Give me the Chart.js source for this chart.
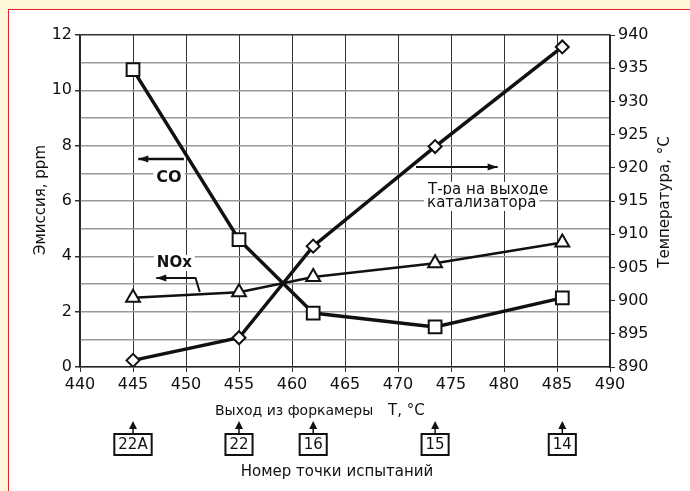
<!DOCTYPE html>
<html><head><meta charset="utf-8">
<script src="https://cdn.jsdelivr.net/npm/chart.js@4"></script>
<style>
html,body{margin:0;padding:0;background:#fdf6d8;width:690px;height:491px;overflow:hidden}
#frame{position:absolute;left:8px;top:9px;width:700px;height:500px;border:1px solid #e8222a;background:#fff;box-sizing:border-box}
#wrap{position:absolute;left:0;top:0;width:690px;height:491px}
</style></head><body>
<div id="frame"></div>
<div id="wrap"><canvas id="c" width="690" height="491"></canvas></div>
<script>
// Data
const chamberT   = [445, 455, 462, 473.5, 485.5];       // x: Выход из форкамеры T, °C
const testPoints = ['22A', '22', '16', '15', '14'];      // Номер точки испытаний
const coPpm      = [10.75, 4.6, 1.95, 1.45, 2.5];        // CO, ppm (left axis)
const noxPpm     = [2.5, 2.7, 3.25, 3.75, 4.5];          // NOx, ppm (left axis)
const catalystT  = [891, 894.4, 908.2, 923.2, 938.2];    // Т-ра на выходе катализатора (right axis)
const xRange = [440, 490];
const leftRange = [0, 12];
const rightRange = [890, 940];

const FONT = 'DejaVu Sans';
const pts = ys => chamberT.map((x, i) => ({x, y: ys[i]}));

const annot = {
  id: 'annot',
  beforeDatasetsDraw(chart) {
    const ctx = chart.ctx, xs = chart.scales.x, yl = chart.scales.y;
    const X = v => xs.getPixelForValue(v), Y = v => yl.getPixelForValue(v);
    ctx.save();
    ctx.fillStyle = '#111'; ctx.strokeStyle = '#111';
    ctx.textBaseline = 'middle'; ctx.textAlign = 'center';
    function label(t, x, y, font) {
      ctx.font = font;
      const w = ctx.measureText(t).width;
      ctx.fillStyle = '#fff';
      ctx.fillRect(x - w/2 - 3, y - 8, w + 6, 16);
      ctx.fillStyle = '#111';
      ctx.fillText(t, x, y);
    }
    function arrowLine(p, lw) {
      ctx.lineWidth = lw;
      ctx.beginPath(); ctx.moveTo(p[0][0], p[0][1]);
      for (let i = 1; i < p.length; i++) ctx.lineTo(p[i][0], p[i][1]);
      ctx.stroke();
      const [ax, ay] = p[p.length-1], [bx, by] = p[p.length-2];
      const ang = Math.atan2(ay - by, ax - bx);
      ctx.beginPath();
      ctx.moveTo(ax, ay);
      ctx.lineTo(ax - 10*Math.cos(ang) + 3.5*Math.sin(ang), ay - 10*Math.sin(ang) - 3.5*Math.cos(ang));
      ctx.lineTo(ax - 10*Math.cos(ang) - 3.5*Math.sin(ang), ay - 10*Math.sin(ang) + 3.5*Math.cos(ang));
      ctx.closePath(); ctx.fill();
    }
    label('CO', X(448.4), Y(6.83), 'bold 16px ' + FONT);
    arrowLine([[X(449.8), Y(7.52)], [X(445.5), Y(7.52)]], 2.5);
    label('NOx', X(448.9), Y(3.76), 'bold 15px ' + FONT);
    arrowLine([[X(451.3), Y(2.71)], [X(450.9), Y(3.22)], [X(447.2), Y(3.22)]], 2);
    label('Т-ра на выходе', X(478.5), Y(6.4), '15px ' + FONT);
    label('катализатора', X(477.9), Y(5.93), '15px ' + FONT);
    arrowLine([[X(471.7), Y(7.23)], [X(479.4), Y(7.23)]], 2);
    ctx.restore();
  },
  afterDraw(chart) {
    const ctx = chart.ctx, xs = chart.scales.x;
    ctx.save();
    ctx.fillStyle = '#111'; ctx.strokeStyle = '#111';
    ctx.textBaseline = 'middle';
    // axis titles
    ctx.font = '15px ' + FONT;
    ctx.save(); ctx.translate(41, 200); ctx.rotate(-Math.PI/2);
    ctx.textAlign = 'center'; ctx.fillText('Эмиссия, ppm', 0, 0); ctx.restore();
    ctx.save(); ctx.translate(665, 202); ctx.rotate(-Math.PI/2);
    ctx.textAlign = 'center'; ctx.fillText('Температура, °C', 0, 0); ctx.restore();
    ctx.textAlign = 'left';
    ctx.font = '14px ' + FONT;
    ctx.fillText('Выход из форкамеры', 215, 411);
    ctx.font = '15px ' + FONT;
    ctx.fillText('T, °C', 388, 411);
    ctx.textAlign = 'center';
    ctx.fillText('Номер точки испытаний', 337, 472);
    // test point boxes
    testPoints.forEach((t, i) => {
      const cx = xs.getPixelForValue(chamberT[i]);
      ctx.font = '15px ' + FONT;
      const w = ctx.measureText(t).width + 8;
      ctx.lineWidth = 2;
      ctx.strokeRect(cx - w/2, 434, w, 21);
      ctx.fillText(t, cx, 445);
      ctx.lineWidth = 1.5;
      ctx.beginPath(); ctx.moveTo(cx, 434); ctx.lineTo(cx, 428); ctx.stroke();
      ctx.beginPath(); ctx.moveTo(cx, 421); ctx.lineTo(cx - 4, 429); ctx.lineTo(cx + 4, 429); ctx.closePath(); ctx.fill();
    });
    ctx.restore();
  }
};

new Chart(document.getElementById('c'), {
  type: 'line',
  data: {
    datasets: [
      { label: 'CO', data: pts(coPpm), yAxisID: 'y', borderColor: '#111', borderWidth: 3.5,
        pointStyle: 'rect', pointRadius: 9, pointBorderWidth: 2, pointBackgroundColor: '#fff', pointBorderColor: '#111' },
      { label: 'NOx', data: pts(noxPpm), yAxisID: 'y', borderColor: '#111', borderWidth: 2.5,
        pointStyle: 'triangle', pointRadius: 8, pointBorderWidth: 2, pointBackgroundColor: '#fff', pointBorderColor: '#111' },
      { label: 'Т-ра на выходе катализатора', data: pts(catalystT), yAxisID: 'y2', borderColor: '#111', borderWidth: 3.5,
        pointStyle: 'rectRot', pointRadius: 6.5, pointBorderWidth: 2, pointBackgroundColor: '#fff', pointBorderColor: '#111' }
    ]
  },
  options: {
    responsive: false, animation: false,
    layout: { padding: { left: 0, right: 0, top: 35, bottom: 94 } },
    plugins: { legend: { display: false }, tooltip: { enabled: false } },
    elements: { line: { tension: 0 } },
    scales: {
      x: {
        type: 'linear', min: xRange[0], max: xRange[1],
        afterFit: s => { s.height = 30; },
        ticks: { stepSize: 5, color: '#111', font: { family: FONT, size: 16 }, padding: 3, maxRotation: 0 },
        grid: { color: '#333', lineWidth: 1, tickLength: 5, tickColor: '#333' },
        border: { color: '#222', width: 1.5 }
      },
      y: {
        position: 'left', min: leftRange[0], max: leftRange[1],
        afterFit: s => { s.width = 80; },
        ticks: { stepSize: 1, autoSkip: false, color: '#111', font: { family: FONT, size: 16 }, padding: 3,
          callback: v => (v % 2 === 0 ? v : '') },
        grid: { lineWidth: 1.5, tickLength: 5,
          color: c => (c.tick && c.tick.value === 12 ? '#333' : '#999'),
          tickColor: c => (c.tick && c.tick.value % 2 === 0 ? '#333' : 'rgba(0,0,0,0)') },
        border: { color: '#222', width: 1.5 }
      },
      y2: {
        position: 'right', min: rightRange[0], max: rightRange[1],
        afterFit: s => { s.width = 80; },
        ticks: { stepSize: 5, color: '#111', font: { family: FONT, size: 16 }, padding: 3 },
        grid: { drawOnChartArea: false, tickLength: 5, tickColor: '#333' },
        border: { color: '#222', width: 1.5 }
      }
    }
  },
  plugins: [annot]
});
</script>
</body></html>
